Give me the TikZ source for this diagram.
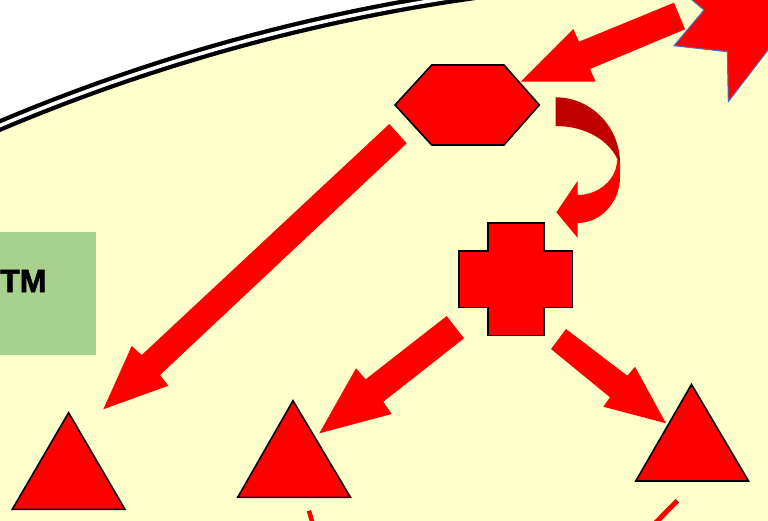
\documentclass[tikz,border=0pt]{standalone}
\usepackage{fontspec}
\newfontfamily\labelfont[BoldFeatures={FakeBold=1.8}]{Liberation Sans}
\definecolor{bgyellow}{HTML}{FFFFCC}
\definecolor{tmgreen}{HTML}{A9D18E}
\definecolor{darkred}{HTML}{C00000}
\definecolor{starblue}{HTML}{4472C4}
\begin{document}
\begin{tikzpicture}[x=1pt,y=-1pt,
  shapefill/.style={fill=red, draw=black, line width=1.6pt, line join=miter},
  blockarrow/.style={fill=red, draw=none},
  redline/.style={draw=red, line width=4.5pt},
]
\useasboundingbox (0,0) rectangle (768,520);
\clip (0,0) rectangle (768,520);
% background and cell boundary
\fill[white] (0,0) rectangle (768,520);
\coordinate (cellc) at (746,1893);
\fill[bgyellow] (cellc) circle[radius=1918pt];
\draw[black, line width=4.3pt, double=white, double distance=3.5pt] (cellc) circle[radius=1918pt];
% green label box
\fill[tmgreen] (0,232) rectangle (96,355);
\node[anchor=base west, inner sep=0pt, font=\labelfont\bfseries\fontsize{32}{32}\selectfont] (tm) at (0,292) {TM};
% star (top right)
\draw[fill=red, draw=starblue, line width=1pt, line join=miter] (680,-10) -- (704,10) -- (674,45.7) -- (727.3,51.7) -- (728.3,101.7) -- (790,21.4) -- (790,-10) -- cycle;
% hexagon
\draw[shapefill] (395,105) -- (431.7,65) -- (504,65) -- (539.3,105) -- (504,145) -- (431.7,145) -- cycle;
\coordinate (hex) at (467,105);
% cross
\draw[shapefill] (487.7,222.7) -- (544,222.7) -- (544,250.7) -- (572.5,250.7) -- (572.5,307.3) -- (544,307.3) -- (544,335.3) -- (487.7,335.3) -- (487.7,307.3) -- (459,307.3) -- (459,250.7) -- (487.7,250.7) -- cycle;
\coordinate (cross) at (515.5,279);
% triangles
\draw[shapefill] (68.6,412.7) -- (125,509.3) -- (12.3,509.3) -- cycle;
\draw[shapefill] (293,400.7) -- (350.5,497.3) -- (237.7,497.3) -- cycle;
\draw[shapefill] (691.5,384.4) -- (748.5,481) -- (635.8,481) -- cycle;
% block arrows
% star -> hexagon
\fill[blockarrow] (674,2.7) -- (685,29.3) -- (590,69) -- (595.7,81.7) -- (520.7,81.7) -- (573.3,29) -- (579,41.7) -- cycle;
% hexagon -> left triangle
\fill[blockarrow] (389.3,124) -- (406.7,143.3) -- (160,375) -- (168.3,385.7) -- (103.3,409.3) -- (131.7,346) -- (141.7,355) -- cycle;
% cross -> middle triangle
\fill[blockarrow] (446.7,316) -- (464,338.3) -- (383.3,401.7) -- (391.7,414) -- (319.3,433.3) -- (356,368.3) -- (365.7,379.3) -- cycle;
% cross -> right triangle
\fill[blockarrow] (566,329) -- (551,349) -- (610,397.3) -- (603.3,406.7) -- (666,423.3) -- (635,366.7) -- (627.3,375.7) -- cycle;
% curved arrow hexagon -> cross
\fill[darkred] (555.7,97.3) .. controls (591,97.3) and (620,127) .. (620,163)
  -- (619,163) .. controls (611,141) and (586,126) .. (555.7,126) -- cycle;
\fill[red] (617,160) .. controls (617,179) and (599,195) .. (577.5,195)
  -- (577.5,181) -- (556.4,212.3) -- (577.5,237.7) -- (577.5,223)
  .. controls (601,223) and (620,202) .. (620,177) -- (620,163) -- cycle;
% connectors leaving at the bottom
\draw[redline] (309,510.7) -- (312.5,523);
\draw[redline, line width=5pt] (677.3,500.7) -- (654,524.4);
\end{tikzpicture}
\end{document}
